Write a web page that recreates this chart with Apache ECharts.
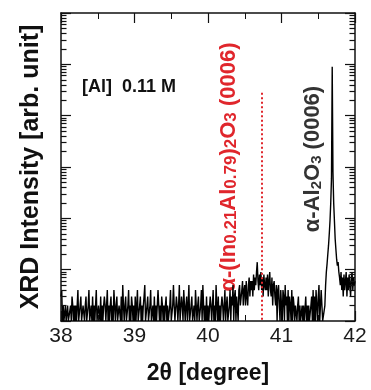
<!DOCTYPE html>
<html>
<head>
<meta charset="utf-8">
<script src="https://cdn.jsdelivr.net/npm/echarts@6/dist/echarts.min.js"></script>
<style>
  html, body { margin: 0; padding: 0; background: #fff; }
  #xrd { width: 371px; height: 390px; }
</style>
</head>
<body>
<div id="xrd"></div>
<script>
// 2theta scan, 38.00 -> 42.00 deg, step 0.01
var xStart = 38.0;
var xStep = 0.01;
var xTicks = [38, 39, 40, 41, 42];
var yRange = [1, 1e6];

// counts (arb.), one row = 0.2 deg
var counts = [
    3, 4, 1, 2, 1, 1, 2, 1, 1, 2, 1, 1, 1, 2, 1, 3, 2, 1, 2, 1,
    2, 1, 1, 4, 1, 1, 2, 3, 1, 1, 2, 2, 1, 2, 3, 1, 1, 2, 4, 1,
    1, 2, 1, 3, 1, 2, 1, 2, 4, 1, 1, 2, 2, 1, 3, 1, 2, 1, 2, 3,
    2, 1, 2, 4, 1, 2, 1, 2, 3, 1, 2, 1, 4, 2, 1, 2, 3, 1, 1, 2,
    2, 1, 3, 1, 5, 2, 1, 2, 3, 1, 1, 2, 4, 1, 2, 1, 3, 2, 1, 2,
    1, 3, 1, 2, 4, 1, 1, 2, 3, 1, 2, 1, 2, 3, 5, 1, 1, 2, 3, 1,
    1, 2, 4, 1, 1, 2, 1, 3, 1, 2, 1, 1, 4, 2, 1, 2, 1, 3, 2, 1,
    2, 1, 2, 3, 1, 2, 1, 1, 2, 4, 1, 1, 2, 5, 2, 1, 1, 3, 2, 1,
    2, 5, 1, 1, 3, 2, 1, 4, 2, 1, 2, 3, 1, 2, 5, 1, 1, 2, 3, 1,
    1, 2, 1, 4, 2, 1, 2, 3, 1, 1, 2, 4, 1, 5, 2, 1, 2, 1, 3, 1,
    2, 1, 1, 3, 2, 1, 2, 4, 1, 2, 1, 5, 2, 1, 3, 1, 2, 1, 2, 3,
    2, 1, 2, 4, 1, 2, 3, 1, 1, 2, 4, 1, 3, 2, 5, 1, 3, 4, 1, 3,
    3, 1, 4, 5, 2, 2, 4, 6, 2, 4, 5, 2, 6, 3, 2, 5, 7, 3, 6, 4,
    6, 3, 8, 4, 7, 5, 9, 14, 6, 4, 8, 5, 9, 4, 7, 3, 8, 5, 4, 7,
    4, 8, 3, 6, 9, 4, 3, 7, 2, 5, 6, 3, 2, 5, 1, 4, 5, 2, 1, 4,
    2, 1, 4, 3, 1, 5, 2, 3, 1, 4, 1, 3, 2, 1, 4, 1, 3, 2, 1, 2,
    2, 1, 2, 3, 1, 2, 1, 1, 2, 1, 2, 1, 1, 3, 1, 2, 1, 2, 1, 1,
    2, 3, 1, 4, 1, 3, 1, 4, 2, 1, 3, 5, 1, 1, 4, 2, 1, 1, 1, 2,
    5, 9, 13, 20, 30, 50, 90, 200, 600, 90000, 800, 200, 90, 40, 25, 16, 12, 14, 9, 7,
    5, 9, 4, 7, 3, 8, 4, 6, 9, 3, 7, 4, 8, 5, 3, 7, 9, 4, 7, 5,
    6
];

// reference position of the alloy (0006) peak
var alloyPeak = 40.73;
var alloyLineTop = 28000;

var fontFam = '"Liberation Sans", Arial, sans-serif';
var red = '#e0262c';
var blk = '#333';

var pts = [];
for (var i = 0; i < counts.length; i++) {
    pts.push([+(xStart + i * xStep).toFixed(2), counts[i]]);
}

var xMin = xTicks[0], xMax = xTicks[xTicks.length - 1];

// markLine items: dotted peak position + log minor ticks (2..9 per decade) on both frame sides
var markItems = [
    [{ coord: [alloyPeak, alloyLineTop], lineStyle: { color: red, width: 2, type: [2, 2.5] } },
     { coord: [alloyPeak, yRange[0]] }]
];
var stub = 0.075; // ~5.5px in x units
var tickStyle = { color: '#111', width: 1.2, type: 'solid' };
for (var d = yRange[0]; d < yRange[1]; d *= 10) {
    for (var k = 2; k <= 9; k++) {
        markItems.push([{ coord: [xMin, k * d], lineStyle: tickStyle }, { coord: [xMin + stub, k * d] }]);
        markItems.push([{ coord: [xMax - stub, k * d], lineStyle: tickStyle }, { coord: [xMax, k * d] }]);
    }
}

var axisLineStyle = { color: '#111', width: 1.5 };

function xAx(pos, labels) {
    return {
        type: 'value',
        position: pos,
        min: xMin,
        max: xMax,
        interval: 1,
        axisLine: { show: true, onZero: false, lineStyle: axisLineStyle },
        axisTick: { show: true, inside: true, length: 10, lineStyle: { color: '#111', width: 1.2 } },
        minorTick: { show: true, splitNumber: 2, length: 6, lineStyle: { color: '#111', width: 1 } },
        splitLine: { show: false },
        minorSplitLine: { show: false },
        axisLabel: labels ? { show: true, fontSize: 21, color: '#1a1a1a', fontFamily: fontFam, margin: 5 } : { show: false },
        name: labels ? '2θ [degree]' : '',
        nameLocation: 'middle',
        nameGap: 41,
        nameTextStyle: { fontSize: 23, fontWeight: 'bold', color: '#111', fontFamily: fontFam }
    };
}

function yAx(pos, named) {
    return {
        type: 'log',
        logBase: 10,
        position: pos,
        min: yRange[0],
        max: yRange[1],
        axisLine: { show: true, onZero: false, lineStyle: axisLineStyle },
        axisTick: { show: true, inside: true, length: 10, lineStyle: { color: '#111', width: 1.2 } },
        axisLabel: { show: false },
        splitLine: { show: false },
        name: named ? 'XRD Intensity [arb. unit]' : '',
        nameLocation: 'middle',
        nameGap: 17,
        nameTextStyle: { fontSize: 25, fontWeight: 'bold', color: '#111', fontFamily: fontFam }
    };
}

var chart = echarts.init(document.getElementById('xrd'), null, { renderer: 'canvas' });

function rs(size, col) {
    return { fontSize: size, fontWeight: 'bold', fontFamily: fontFam, fill: col, color: col, verticalAlign: 'bottom', lineHeight: 26 };
}

var option = {
    animation: false,
    backgroundColor: '#fff',
    grid: { left: 61, right: 16, top: 13, bottom: 67, containLabel: false },
    xAxis: [xAx('bottom', true), xAx('top', false)],
    yAxis: [yAx('left', true), yAx('right', false)],
    series: [
        {
            type: 'line',
            data: pts,
            xAxisIndex: 0,
            yAxisIndex: 0,
            showSymbol: false,
            symbol: 'none',
            sampling: false,
            lineStyle: { color: '#000', width: 1.4 },
            markLine: {
                silent: true,
                symbol: ['none', 'none'],
                label: { show: false },
                lineStyle: { color: '#111', width: 1, type: 'solid' },
                data: markItems
            }
        }
    ],
    graphic: [
        {
            type: 'text',
            x: 82, y: 87,
            style: {
                text: '[Al]  0.11 M',
                font: 'bold 18px ' + fontFam,
                fill: '#111',
                align: 'left', verticalAlign: 'middle',
                textAlign: 'left', textVerticalAlign: 'middle'
            }
        },
        {
            type: 'text',
            x: 227, y: 167,
            rotation: Math.PI / 2,
            style: {
                text: '{n|α-(In}{s|0.21}{n|Al}{s|0.79}{n|)}{s|2}{n|O}{s|3}{n| (0006)}',
                rich: { n: rs(22, red), s: rs(17, red) },
                font: 'bold 22px ' + fontFam,
                fill: red,
                align: 'center', verticalAlign: 'middle',
                textAlign: 'center', textVerticalAlign: 'middle'
            }
        },
        {
            type: 'text',
            x: 311, y: 159,
            rotation: Math.PI / 2,
            style: {
                text: '{n|α-Al}{s|2}{n|O}{s|3}{n| (0006)}',
                rich: { n: rs(22, blk), s: rs(15, blk) },
                font: 'bold 22px ' + fontFam,
                fill: blk,
                align: 'center', verticalAlign: 'middle',
                textAlign: 'center', textVerticalAlign: 'middle'
            }
        }
    ]
};

chart.setOption(option);
</script>
</body>
</html>
